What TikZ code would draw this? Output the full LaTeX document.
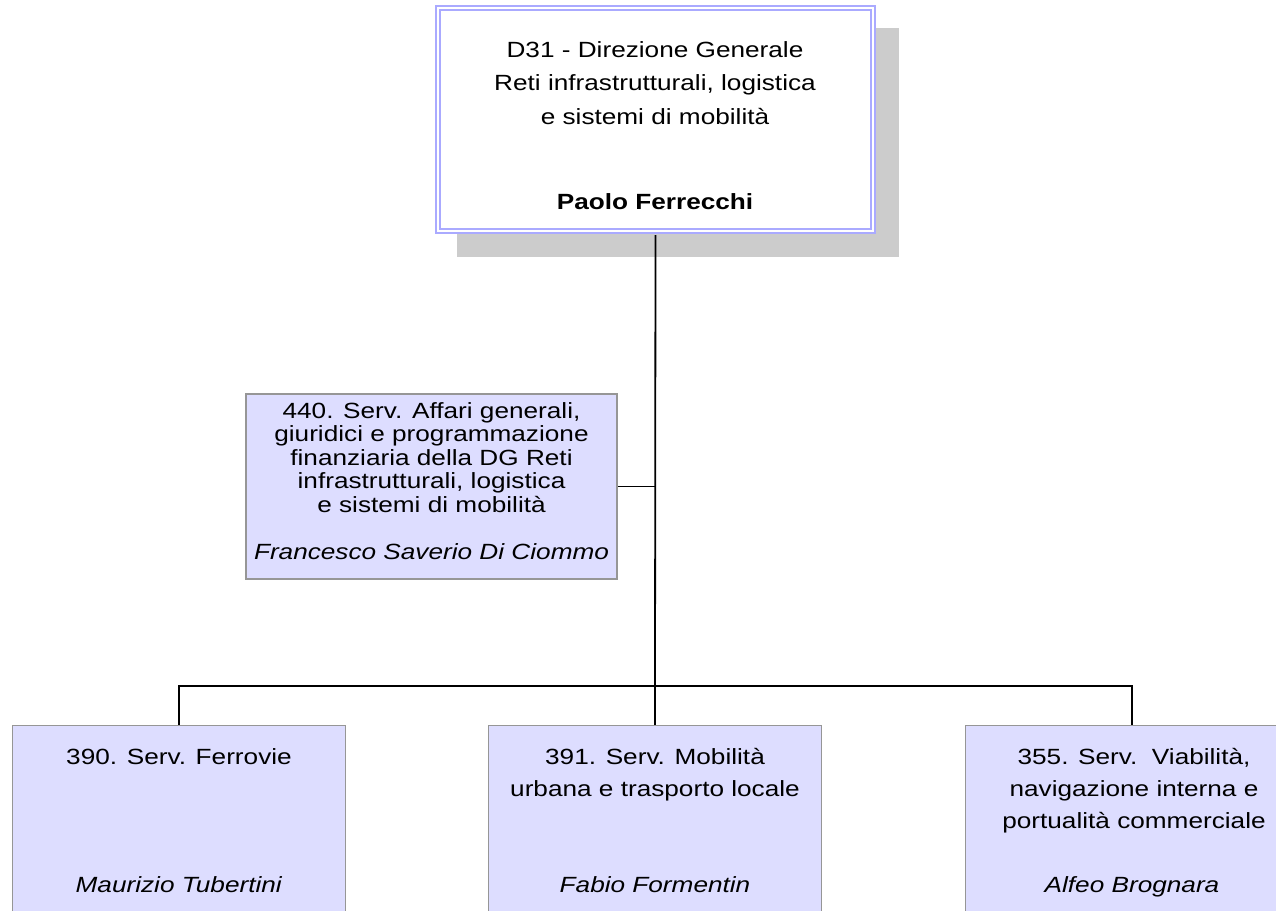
\documentclass[tikz,border=0pt]{standalone}
\usepackage{fontspec}
\setmainfont{Liberation Sans}[FakeStretch=1.19]
\usetikzlibrary{positioning}

\definecolor{boxfill}{RGB}{221,221,255}
\definecolor{boxline}{RGB}{150,150,150}
\definecolor{topline}{RGB}{170,170,255}
\definecolor{shadowgray}{RGB}{204,204,204}

\tikzset{
  dgbox/.style={draw=topline, double=white, double distance=2pt, line width=2pt, fill=white, inner sep=0pt, minimum width=435, minimum height=223},
  unit/.style={draw=boxline, line width=1.5pt, fill=boxfill, inner sep=0pt},
  lowunit/.style={unit, anchor=north, minimum width=333, minimum height=230},
  unittext/.style={align=center, inner sep=0pt, font=\fontsize{22}{32}\selectfont},
  sidetext/.style={align=center, inner sep=0pt, font=\fontsize{22}{23.5}\selectfont},
  link/.style={line width=1.8pt}
}

\begin{document}
\begin{tikzpicture}[x=1pt, y=-1pt]
\clip (0,0) rectangle (1276,910);

% Direzione Generale
\fill[shadowgray] (457,28) rectangle (899,257);
\coordinate (bus) at (655,686);
\node[dgbox] (dg) at (655.5,119.5) {};
\node[unittext, anchor=base, font=\fontsize{22}{33.5}\selectfont] (dgtitle) at (655,124) {D31 - Direzione Generale\\Reti infrastrutturali, logistica\\e sistemi di mobilità};
\node[unittext, anchor=base, font=\fontsize{22}{32}\selectfont\bfseries] (dgname) at (655,209) {Paolo Ferrecchi};

% staff service
\node[unit, minimum width=371, minimum height=185] (ag) at (431.5,486.5) {};
\node[sidetext, anchor=base] (agtitle) at (431.5,559) {440. Serv. Affari generali,\\giuridici e programmazione\\finanziaria della DG Reti\\infrastrutturali, logistica\\e sistemi di mobilità\\[23.5pt]\textit{Francesco Saverio Di Ciommo}};

% services (the lower boxes run past the page edge)
\node[lowunit] (fer) at (179,724.5) {};
\node[unittext, anchor=base] (fertitle) at (179,764) {390. Serv. Ferrovie};
\node[unittext, anchor=base] (fername) at (179,892) {\textit{Maurizio Tubertini}};

\node[lowunit] (mob) at (655,724.5) {};
\node[unittext, anchor=base] (mobtitle) at (655,796) {391. Serv. Mobilità\\urbana e trasporto locale};
\node[unittext, anchor=base] (mobname) at (655,892) {\textit{Fabio Formentin}};

\node[lowunit] (via) at (1132,724.5) {};
\node[unittext, anchor=base] (viatitle) at (1134,828) {355. Serv.\ \ Viabilità,\\navigazione interna e\\portualità commerciale};
\node[unittext, anchor=base] (vianame) at (1132,892) {\textit{Alfeo Brognara}};

\draw[link, shorten <=3pt] (dg.south) -- (bus);
\draw[link] (ag.east) -- (ag.east -| bus);
\draw[link] (fer.north) |- (bus) -| (via.north);
\draw[link] (bus) -- (mob.north);

\end{tikzpicture}
\end{document}
